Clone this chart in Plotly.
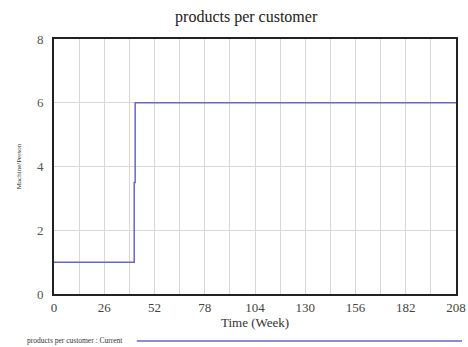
import plotly.graph_objects as go

# Data
weeks = [0, 41.5, 42, 208]
values = [1, 3.5, 6, 6]
x_ticks = [0, 26, 52, 78, 104, 130, 156, 182, 208]
y_ticks = [0, 2, 4, 6, 8]
series_name = "products per customer : Current"

fig = go.Figure()
fig.add_trace(go.Scatter(
    x=weeks, y=values, mode="lines", line=dict(color="#6666cc", width=1.5, shape="hv"),
    name=series_name, showlegend=False, hoverinfo="skip"))

serif = "Liberation Serif, Times New Roman, serif"
fig.update_layout(
    width=468, height=347,
    margin=dict(l=54, r=12, t=39, b=53, autoexpand=False),
    paper_bgcolor="white", plot_bgcolor="white",
    font=dict(family=serif, color="#333333"),
    title=dict(text="products per customer", x=0.526, xanchor="center", y=0.952, yanchor="middle",
               font=dict(family=serif, size=16, color="#222222")),
    xaxis=dict(range=[0, 208], tickvals=x_ticks, ticks="", showgrid=True, gridcolor="#d8d8d8",
               gridwidth=1, minor=dict(dtick=13, tick0=0, showgrid=True, gridcolor="#d8d8d8", gridwidth=1),
               showline=True, linecolor="#222222", linewidth=2, mirror=True, zeroline=False,
               automargin=False,
               tickfont=dict(family=serif, size=13, color="#444444"),
               title=dict(text="Time (Week)", font=dict(family=serif, size=13, color="#333333"), standoff=2)),
    yaxis=dict(range=[0, 8], tickvals=y_ticks, ticks="", showgrid=True, gridcolor="#d8d8d8", gridwidth=1,
               showline=True, linecolor="#222222", linewidth=2, mirror=True, zeroline=False,
               automargin=False,
               tickfont=dict(family=serif, size=13, color="#555555"), ticklabelstandoff=6,
               title=dict(text="Machine/Person", font=dict(family=serif, size=7, color="#333333"), standoff=14)),
)

fig.add_annotation(text=series_name, xref="paper", yref="paper", x=-0.072, y=-0.184,
                   xanchor="left", yanchor="middle", showarrow=False,
                   font=dict(family=serif, size=7.5, color="#333333"))
fig.add_shape(type="line", xref="paper", yref="paper", x0=0.206, x1=1.015, y0=-0.184, y1=-0.184,
              line=dict(color="#6666cc", width=1.5))

fig.write_html("out.html", config={"displayModeBar": False},
               post_script="document.body.style.margin='0';document.body.style.overflow='hidden';")
